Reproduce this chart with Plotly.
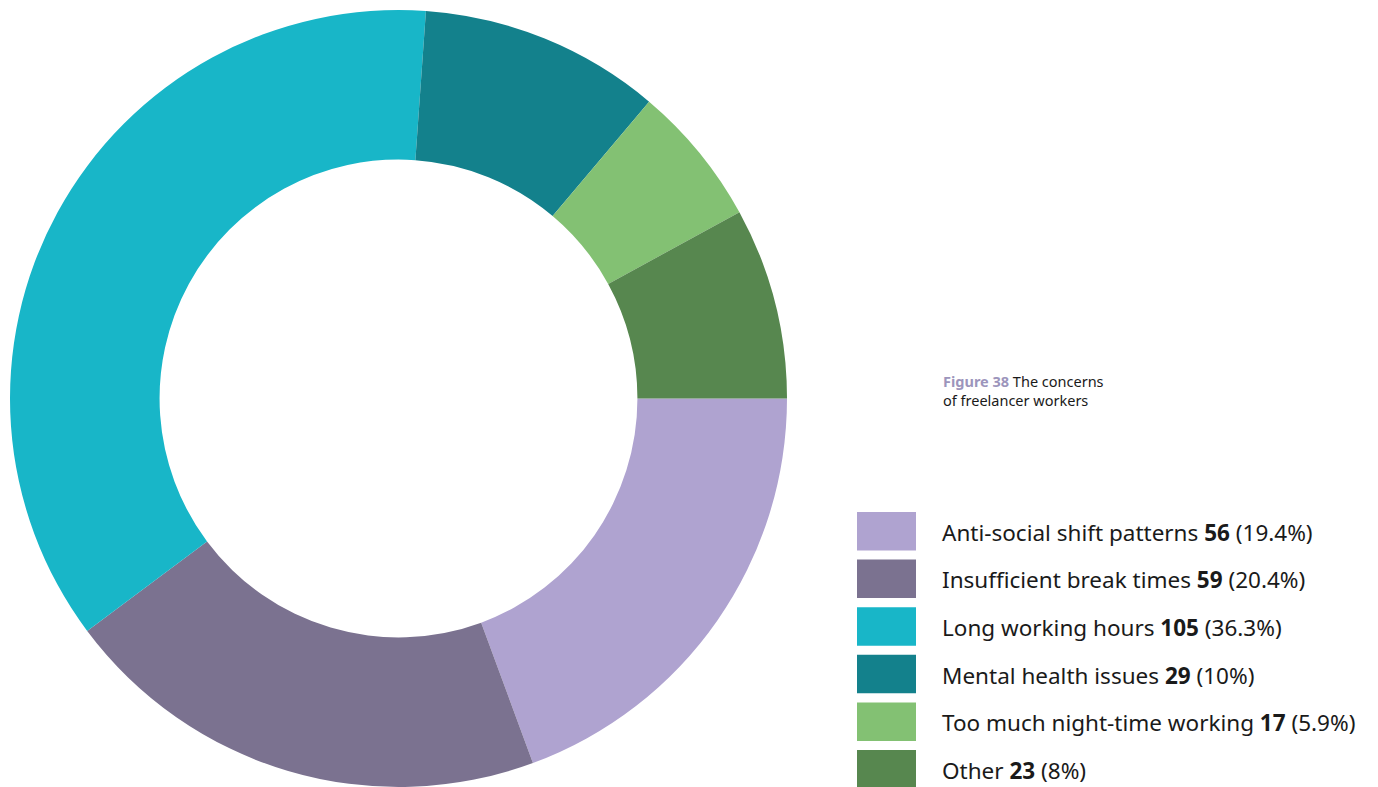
import plotly.graph_objects as go

W, H = 1378, 787
OFF = 8  # page body margin offsets the plot by 8px

labels = [
    "Anti-social shift patterns",
    "Insufficient break times",
    "Long working hours",
    "Mental health issues",
    "Too much night-time working",
    "Other",
]
values = [56, 59, 105, 29, 17, 23]
colors = ["#AFA3D0", "#7B7290", "#18B6C8", "#13818C", "#83C173", "#57874F"]


def px_x(x):
    return (x - OFF) / W


def px_y(y):
    # pixel from top -> paper from bottom
    return 1 - (y - OFF) / H


def pct_text(v, total):
    s = f"{100 * v / total:.1f}".rstrip("0").rstrip(".")
    return f"({s}%)"


fig = go.Figure()

fig.add_trace(
    go.Pie(
        labels=labels,
        values=values,
        marker=dict(colors=colors, line=dict(width=0)),
        hole=0.615,
        sort=False,
        direction="clockwise",
        rotation=90,
        textinfo="none",
        hoverinfo="label+value+percent",
        showlegend=False,
        domain=dict(x=[px_x(10), px_x(787)], y=[px_y(787), px_y(10)]),
    )
)

shapes = []
annotations = []
total = sum(values)

# custom legend: big square swatches + text with bold count
row_top = 512
row_step = 47.6
sw_h = 38.5
for i, (lab, val, col) in enumerate(zip(labels, values, colors)):
    y0 = row_top + i * row_step
    y1 = y0 + sw_h
    shapes.append(dict(
        type="rect", xref="paper", yref="paper",
        x0=px_x(857), x1=px_x(916), y0=px_y(y1), y1=px_y(y0),
        fillcolor=col, line=dict(width=0), layer="above",
    ))
    annotations.append(dict(
        x=px_x(940), y=px_y((y0 + y1) / 2 + 1),
        xref="paper", yref="paper", xanchor="left", yanchor="middle",
        text=f"{lab} <b>{val}</b> {pct_text(val, total)}",
        showarrow=False,
        font=dict(family="Noto Sans", size=22.5, color="#1a1a1a"),
    ))

# figure caption
annotations.append(dict(
    x=px_x(941), y=px_y(390),
    xref="paper", yref="paper", xanchor="left", yanchor="middle",
    text="<b><span style='color:#9C95BC'>Figure 38</span></b> The concerns<br>of freelancer workers",
    showarrow=False, align="left",
    font=dict(family="Noto Sans", size=14.5, color="#1a1a1a"),
))

fig.update_layout(
    width=W, height=H,
    margin=dict(l=0, r=0, t=0, b=0),
    paper_bgcolor="white",
    plot_bgcolor="white",
    shapes=shapes,
    annotations=annotations,
)

fig.write_html("out.html")
